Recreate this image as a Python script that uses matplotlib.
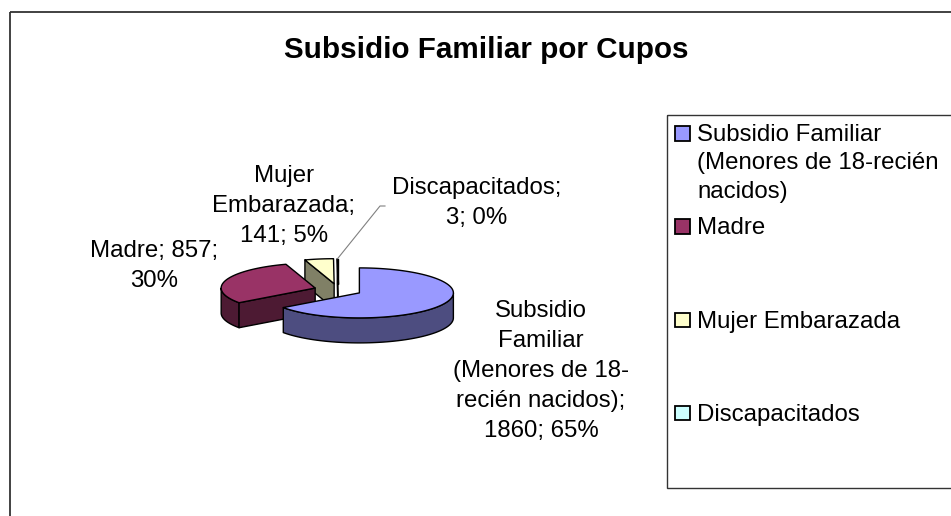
import numpy as np
import matplotlib
matplotlib.use("Agg")
import matplotlib.pyplot as plt
import matplotlib.colors as mcolors
from matplotlib.patches import Polygon, Rectangle

plt.rcParams['font.family'] = ['Liberation Sans', 'DejaVu Sans']

# data
categories = ["Subsidio Familiar (Menores de 18-recién nacidos)", "Madre",
              "Mujer Embarazada", "Discapacitados"]
values = [1860, 857, 141, 3]
legend_labels = ["Subsidio Familiar\n(Menores de 18-recién\nnacidos)", "Madre",
                 "Mujer Embarazada", "Discapacitados"]
label_templates = ["Subsidio\nFamiliar\n(Menores de 18-\nrecién nacidos);\n{v}; {p}%",
                   "Madre; {v};\n{p}%",
                   "Mujer\nEmbarazada;\n{v}; {p}%",
                   "Discapacitados;\n{v}; {p}%"]
colors = ["#9999FF", "#993366", "#FFFFCC", "#CCFFFF"]

title = "Subsidio Familiar por Cupos"

fig = plt.figure(figsize=(9.51, 5.16), dpi=100)
ax = fig.add_axes([0, 0, 1, 1])
ax.set_xlim(0, 951)
ax.set_ylim(516, 0)
ax.axis('off')

# chart frame + legend frame
ax.add_patch(Rectangle((9.5, 11.5), 1000, 600, fill=False, ec='#333333', lw=1.3))
ax.add_patch(Rectangle((667, 115), 400, 373, fill=False, ec='#333333', lw=1.0))

ax.text(486, 50, title, fontsize=21.3, fontweight='bold', ha='center', va='center')

# fake 3D exploded pie (Excel style)
cx, cy, rx, ry, depth, explode = 338, 290, 94, 25, 25, 24
vals = np.array(values, dtype=float)
fracs = vals / vals.sum()
ends = 90 - 360 * np.concatenate([[0], np.cumsum(fracs)[:-1]])
starts = ends - 360 * fracs


def shade(c, f=0.5):
    return tuple(x * f for x in mcolors.to_rgb(c))


def rim(ox, oy, angles, drop=0):
    t = np.radians(angles)
    return np.column_stack([ox + rx * np.cos(t), oy - ry * np.sin(t) + drop])


centers = {}
mids = (starts + ends) / 2
order = np.argsort(-np.sin(np.radians(mids)))
for i in order:
    m = np.radians(mids[i])
    ox = cx + explode * np.cos(m)
    oy = cy - explode * np.sin(m) * ry / rx
    centers[i] = (ox, oy)
    side = shade(colors[i])
    # outer wall, front half only
    for k in range(-2, 2):
        a0 = max(starts[i], 180 + 360 * k)
        a1 = min(ends[i], 360 + 360 * k)
        if a1 > a0:
            arc = np.linspace(a0, a1, 80)
            pts = np.vstack([rim(ox, oy, arc), rim(ox, oy, arc[::-1], depth)])
            ax.add_patch(Polygon(pts, closed=True, fc=side, ec='black', lw=1.0, joinstyle='round'))
    # radial cut faces that face the viewer
    for a, vis in ((starts[i], np.cos(np.radians(starts[i])) > 0),
                   (ends[i], np.cos(np.radians(ends[i])) < 0)):
        if vis:
            p = rim(ox, oy, [a])[0]
            pts = [(ox, oy), p, (p[0], p[1] + depth), (ox, oy + depth)]
            ax.add_patch(Polygon(pts, closed=True, fc=side, ec='black', lw=1.0, joinstyle='round'))
    # top face
    arc = np.linspace(starts[i], ends[i], 200)
    pts = np.vstack([[ox, oy], rim(ox, oy, arc)])
    ax.add_patch(Polygon(pts, closed=True, fc=colors[i], ec='black', lw=1.0, joinstyle='round'))

# data labels
pcts = np.round(fracs * 100).astype(int)
label_pos = [(541, 371), (154, 266), (284, 206), (477, 203)]
for i, (x, y) in enumerate(label_pos):
    ax.text(x, y, label_templates[i].format(v=values[i], p=pcts[i]), fontsize=17.3,
            ha='center', va='center', multialignment='center', linespacing=1.48)

# leader line for the tiny slice
tip = rim(*centers[3], [mids[3]])[0]
ax.plot([385, 380, tip[0]], [206, 206, tip[1]], color='#808080', lw=0.8)

# legend
for i, lab in enumerate(legend_labels):
    yc = 133 + i * 93.3
    ax.add_patch(Rectangle((675, yc - 7), 14.5, 14.5, fc=colors[i], ec='black', lw=1.3))
    ax.text(697, yc - 9, lab, fontsize=17.3, ha='left', va='top', linespacing=1.38)

fig.savefig("out.png", dpi=100)
